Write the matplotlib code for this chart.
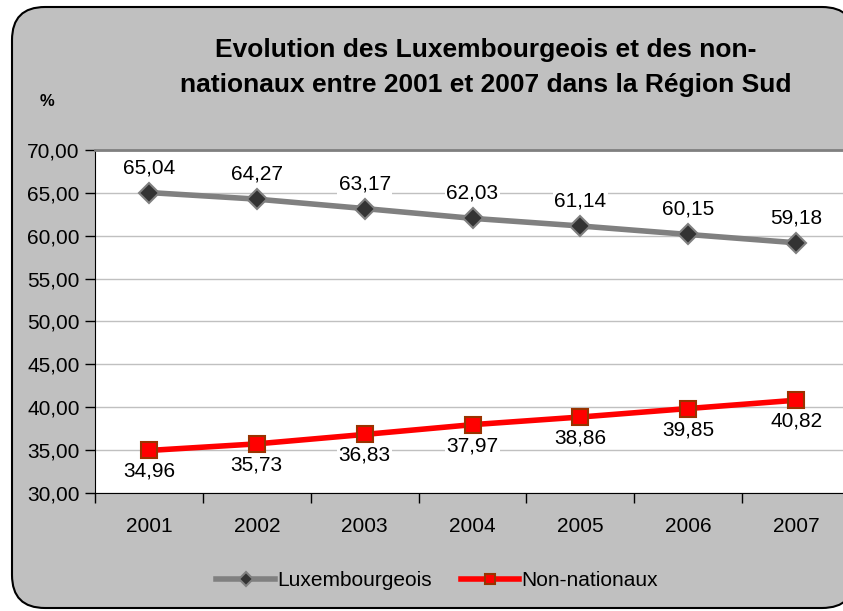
import numpy as np
import matplotlib as mpl
import matplotlib.pyplot as plt
from matplotlib.patches import FancyBboxPatch
from matplotlib.transforms import IdentityTransform

mpl.rcParams.update({
    "font.family": ["Liberation Sans", "DejaVu Sans"],
    "font.size": 15,
})

years = ["2001", "2002", "2003", "2004", "2005", "2006", "2007"]
luxembourgeois = [65.04, 64.27, 63.17, 62.03, 61.14, 60.15, 59.18]
non_nationaux = [34.96, 35.73, 36.83, 37.97, 38.86, 39.85, 40.82]
y_ticks = [30, 35, 40, 45, 50, 55, 60, 65, 70]

W, H, DPI = 843, 611, 100
BG = "#c0c0c0"


def fmt(v):
    return f"{v:.2f}".replace(".", ",")


fig = plt.figure(figsize=(W / DPI, H / DPI), dpi=DPI, facecolor="white")

# rounded grey chart-area frame, in pixels
frame = FancyBboxPatch((12 + 33, 3 + 33), 855 - 12 - 66, 604 - 3 - 66,
                       boxstyle="round,pad=33", transform=IdentityTransform(),
                       facecolor=BG, edgecolor="black", lw=1.5, zorder=-10)
fig.patches.append(frame)

ax = fig.add_axes([95 / W, (H - 493) / H, (850 - 95) / W, (493 - 150) / H])
ax.set_facecolor("white")

x = np.arange(len(years))
ax.plot(x, luxembourgeois, color="#808080", lw=4, marker="D", ms=10.5,
        mfc="#333333", mec="#808080", mew=1.5, label="Luxembourgeois",
        zorder=3)
ax.plot(x, non_nationaux, color="#ff0000", lw=4, marker="s", ms=11,
        mfc="#ff0000", mec="#993300", mew=1.5, label="Non-nationaux",
        zorder=3)

for xi, v in zip(x, luxembourgeois):
    ax.annotate(fmt(v), (xi, v), xytext=(0, 25), textcoords="offset pixels",
                ha="center", va="center", fontsize=15,
                bbox=dict(fc="white", ec="none", pad=1), zorder=4)
for xi, v in zip(x, non_nationaux):
    ax.annotate(fmt(v), (xi, v), xytext=(0, -21), textcoords="offset pixels",
                ha="center", va="center", fontsize=15,
                bbox=dict(fc="white", ec="none", pad=1), zorder=4)

ax.set_ylim(30, 70)
ax.set_yticks(y_ticks)
ax.set_yticklabels([fmt(t) for t in y_ticks])
ax.yaxis.grid(True, color="#c0c0c0", lw=1)
ax.set_axisbelow(True)

ax.set_xlim(-0.5, len(years) - 0.5)
ax.set_xticks(np.arange(len(years) + 1) - 0.5)
ax.set_xticklabels([])
ax.set_xticks(x, minor=True)
ax.set_xticklabels(years, minor=True)
ax.tick_params(axis="x", which="minor", length=0, pad=17, labelsize=15)
ax.tick_params(axis="x", which="major", length=7, width=1, direction="out")
ax.tick_params(axis="y", length=7, width=1, direction="out", pad=4,
               labelsize=15)

ax.spines["right"].set_visible(False)
ax.spines["top"].set_color("#808080")
ax.spines["top"].set_linewidth(2)
ax.spines["left"].set_color("black")
ax.spines["bottom"].set_color("black")

fig.text(486 / W, 1 - 67.5 / H,
         "Evolution des Luxembourgeois et des non-\n"
         "nationaux entre 2001 et 2007 dans la Région Sud",
         ha="center", va="center", fontsize=19, fontweight="bold",
         linespacing=1.6)
fig.text(47 / W, 1 - 101 / H, "%", ha="center", va="center",
         fontsize=12, fontweight="bold")

leg = fig.legend(loc="center", bbox_to_anchor=(437 / W, 1 - 581 / H),
                 ncol=2, frameon=False, fontsize=15, handlelength=2.8,
                 columnspacing=1.4, handletextpad=0.1, markerscale=0.7)

fig.savefig("out.png", dpi=DPI, facecolor="white")
